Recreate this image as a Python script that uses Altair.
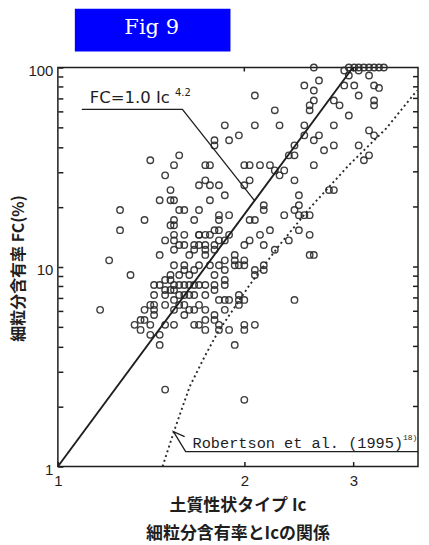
import altair as alt
import pandas as pd

# soil behaviour type index Ic and fines content FC (%)
IC = [
    2.59, 2.90, 2.95, 3.01, 3.06, 3.12, 3.18, 3.24, 3.30, 3.36, 3.06, 3.18, 2.95,
    2.64, 2.50, 3.01, 2.90, 3.24, 3.30, 2.59, 2.59, 2.55, 2.55, 2.79, 2.85, 3.06,
    3.24, 3.24, 2.08, 2.24, 1.86, 1.89, 1.96, 2.08, 2.28, 1.79, 2.50, 2.95, 2.79,
    2.79, 2.64, 2.59, 2.50, 2.69, 2.41, 2.41, 2.36, 3.06, 3.18, 3.24, 3.18, 3.12,
    2.59, 2.00, 2.04, 2.12, 2.20, 2.24, 2.32, 2.28, 2.41, 2.04, 2.00, 2.79, 2.74,
    1.82, 1.76, 1.73, 1.86, 2.45, 2.45, 2.41, 2.45, 2.55, 2.15, 2.15, 2.32, 1.82,
    1.89, 2.04,
    1.41, 1.57, 1.54, 1.49, 1.52, 1.46, 1.52, 1.54, 1.57, 1.60, 1.69, 1.26, 1.26,
    1.38, 1.21, 1.31, 1.46, 1.54, 1.54, 1.52, 1.66, 1.69, 1.73, 1.79, 1.82, 1.76,
    1.69, 1.73, 1.76, 1.79, 1.54, 1.57, 1.60, 1.66, 1.73, 1.63, 1.54, 1.52, 1.60,
    1.43, 1.49, 1.79, 1.86, 1.89, 1.93, 2.00, 1.86, 1.93, 1.86,
    2.50, 2.55, 2.45, 2.36, 2.59, 2.55, 2.24, 2.15, 2.08, 2.04, 2.12, 2.20, 2.00,
    2.08, 2.15, 1.79, 1.86, 1.96, 1.96, 2.41, 1.86, 1.86, 1.79, 2.00, 2.08, 1.93,
    2.00,
    1.17, 1.36, 1.38, 1.41, 1.43, 1.43, 1.46, 1.52, 1.54, 1.49, 1.54, 1.57, 1.63,
    1.60, 1.66, 1.73, 1.54, 1.66, 1.73, 1.82, 1.46, 1.41, 1.79, 1.73, 1.79, 1.82,
    1.93, 1.96, 1.96, 1.89, 1.66, 1.69, 1.73, 1.69, 1.82, 1.46, 1.49, 2.00,
    1.43, 1.49, 1.60, 1.63, 1.69, 1.73, 1.79, 1.82, 1.89, 2.00, 1.82, 1.86, 1.76,
    2.00, 2.08, 2.15, 1.49, 1.57, 1.60, 1.63, 1.69, 1.66, 1.60, 1.49, 1.43, 1.38,
    1.54, 1.73, 1.69, 1.60, 1.66, 1.73, 1.79, 1.54, 1.69, 1.76, 1.82, 1.54, 1.49,
    1.33, 1.36, 1.41, 1.57, 1.60, 1.63, 1.54, 1.66, 1.52, 1.57,
]
FC = [
    100, 96.6, 100, 100, 100, 100, 100, 100, 100, 100, 96.6, 91.2, 91.2,
    86.1, 81.3, 81.3, 81.3, 81.3, 79.0, 76.7, 68.4, 64.6, 61.0, 68.4, 64.6, 72.4,
    68.4, 64.6, 72.4, 61.0, 51.3, 43.2, 45.7, 51.3, 51.3, 43.2, 51.3, 57.5, 51.3,
    40.7, 45.7, 43.2, 45.7, 38.5, 40.7, 36.3, 36.3, 40.7, 48.4, 45.7, 36.3, 34.3,
    32.4, 32.4, 32.4, 32.4, 32.4, 30.5, 30.5, 28.8, 27.2, 27.2, 25.7, 24.3, 24.3,
    25.7, 25.7, 32.4, 22.9, 22.9, 20.4, 19.3, 18.2, 18.2, 20.4, 19.3, 18.2, 18.2,
    18.2, 17.2,
    34.3, 36.3, 32.4, 28.8, 24.3, 21.6, 21.6, 21.6, 19.3, 19.3, 19.3, 19.3, 15.3,
    17.2, 10.8, 9.12, 11.5, 17.2, 16.2, 16.2, 17.2, 14.5, 14.5, 15.3, 17.2, 21.6,
    25.7, 27.2, 32.4, 40.7, 13.6, 12.9, 14.5, 12.9, 12.2, 11.5, 10.2, 9.12, 9.66,
    8.13, 8.61, 12.2, 13.6, 14.5, 11.5, 12.9, 10.8, 10.2, 9.66,
    18.2, 14.5, 15.3, 13.6, 11.5, 11.5, 12.2, 12.9, 17.2, 13.6, 14.5, 15.3, 10.2,
    9.12, 9.66, 8.13, 8.13, 6.84, 6.46, 6.84, 6.84, 6.10, 5.75, 5.13, 5.13, 4.07,
    2.16,
    6.10, 5.43, 5.43, 6.46, 6.10, 7.24, 8.13, 8.61, 8.13, 7.24, 6.84, 7.24, 7.24,
    6.46, 6.10, 6.10, 5.13, 5.13, 5.43, 5.13, 4.57, 5.13, 9.12, 8.13, 7.67, 10.2,
    10.8, 10.2, 7.24, 6.84, 9.66, 10.2, 11.5, 12.9, 15.3, 4.07, 2.43, 4.84,
    5.75, 5.13, 5.75, 6.10, 5.13, 4.84, 5.43, 4.84, 4.84, 6.84, 6.84, 8.61, 10.2,
    10.8, 9.66, 10.2, 7.67, 9.12, 10.2, 9.12, 8.13, 7.24, 7.24, 6.46, 6.46, 6.10,
    6.10, 7.24, 6.46, 12.9, 12.2, 12.9, 12.9, 12.2, 14.5, 14.5, 13.6, 14.5, 13.6,
    5.13, 4.84, 4.57, 8.13, 8.13, 8.13, 7.67, 8.13, 7.67, 6.46,
]

# FC = 1.0 Ic^4.2, straight on log-log axes
LINE_IC = [1.0, 2.995]
LINE_FC = [1.0, 100.0]

# Robertson et al. (1995), dotted curve
ROB_IC = [1.476, 1.543, 1.632, 1.725, 1.81, 2.04, 2.28, 2.55, 2.95, 3.39, 3.80]
ROB_FC = [1.0, 1.53, 2.51, 3.55, 4.68, 8.13, 12.9, 19.7, 32.4, 49.5, 76.7]

# leader lines of the two labels
FC_LEAD_IC = [1.093, 1.589, 2.076]
FC_LEAD_FC = [61.7, 61.7, 21.6]
ROB_LEAD_IC = [1.602, 1.537, 1.608, 3.815]
ROB_LEAD_FC = [1.413, 1.496, 1.189, 1.189]

X_DOMAIN = [1, 3.815]
Y_DOMAIN = [1, 100]
X_TICKS = [1, 2, 3]
Y_TICKS = [1, 2, 3, 4, 5, 6, 7, 8, 9, 10, 20, 30, 40, 50, 60, 70, 80, 90, 100]

W, H = 361, 400
TICK = 5  # axes are pulled inside the frame by this much so ticks point inward
INK = "#1e1e1e"

xs = alt.Scale(type="log", domain=X_DOMAIN, nice=False)
ys = alt.Scale(type="log", domain=Y_DOMAIN, nice=False)

pts = pd.DataFrame({"ic": IC, "fc": FC})

scatter = (
    alt.Chart(pts)
    .mark_point(shape="circle", filled=False, size=42, strokeWidth=1.4, color="#2a2a2a", opacity=0.9)
    .encode(
        x=alt.X(
            "ic:Q",
            scale=xs,
            axis=alt.Axis(
                values=X_TICKS,
                format="~g",
                offset=-TICK,
                tickSize=TICK,
                tickColor=INK,
                tickWidth=1.5,
                domain=False,
                grid=False,
                labelFont="Liberation Sans",
                labelFontSize=15,
                labelColor=INK,
                labelPadding=7,
                labelFlush=False,
                labelOverlap=False,
                title=["土質性状タイプ Ic", "細粒分含有率とIcの関係"],
                titleFont="Noto Sans CJK JP",
                titleFontSize=17,
                titleFontWeight="bold",
                titleColor=INK,
                titleLineHeight=28,
                titleX=180,
                titleY=31 + TICK,
                titleAlign="center",
                titleBaseline="top",
            ),
        ),
        y=alt.Y(
            "fc:Q",
            scale=ys,
            axis=alt.Axis(
                values=Y_TICKS,
                labelExpr="indexof([1, 10, 100], datum.value) >= 0 ? datum.label : ''",
                format="~g",
                offset=-TICK,
                tickSize=TICK,
                tickColor=INK,
                tickWidth=1.5,
                domain=False,
                grid=False,
                labelFont="Liberation Sans",
                labelFontSize=15,
                labelColor=INK,
                labelPadding=5,
                labelOffset=3,
                labelFlush=False,
                labelOverlap=False,
                title="細粒分含有率 FC(%)",
                titleFont="Noto Sans CJK JP",
                titleFontSize=16,
                titleFontWeight="bold",
                titleColor=INK,
                titleX=-39 - TICK,
                titleY=201,
                titleAlign="center",
                titleBaseline="middle",
            ),
        ),
    )
)

# the other layers share the scatter's scales and axes
px = alt.X("ic:Q", scale=xs)
py = alt.Y("fc:Q", scale=ys)

# inward ticks on the right and top edges of the frame
right_ticks = (
    alt.Chart(pd.DataFrame({"fc": Y_TICKS[1:-1]}))
    .mark_rule(color=INK, strokeWidth=1.5)
    .encode(y=py, x=alt.value(W - TICK), x2=alt.value(W))
)
top_ticks = (
    alt.Chart(pd.DataFrame({"ic": X_TICKS[1:]}))
    .mark_rule(color=INK, strokeWidth=1.5)
    .encode(x=px, y=alt.value(0), y2=alt.value(4))
)

fc_line = (
    alt.Chart(pd.DataFrame({"ic": LINE_IC, "fc": LINE_FC}))
    .mark_line(color=INK, strokeWidth=1.9)
    .encode(x=px, y=py)
)

rob_line = (
    alt.Chart(pd.DataFrame({"ic": ROB_IC, "fc": ROB_FC, "o": range(len(ROB_IC))}))
    .mark_line(color="#2a2a2a", strokeWidth=1.9, strokeDash=[2, 3])
    .encode(x=px, y=py, order="o:Q")
)


def leader(ic, fc):
    df = pd.DataFrame({"ic": ic, "fc": fc, "o": range(len(ic))})
    return alt.Chart(df).mark_line(color=INK, strokeWidth=1.3).encode(x=px, y=py, order="o:Q")


def label(ic, fc, text, font, size):
    df = pd.DataFrame({"ic": [ic], "fc": [fc], "t": [text]})
    return (
        alt.Chart(df)
        .mark_text(align="left", baseline="alphabetic", font=font, fontSize=size, color=INK)
        .encode(x=px, y=py, text="t:N")
    )


one = pd.DataFrame({"a": [0]})
fig_box = alt.Chart(one).mark_rect(color="#0000ff").encode(
    x=alt.value(17), x2=alt.value(173), y=alt.value(-59), y2=alt.value(-16)
)
fig_text = alt.Chart(one).mark_text(
    text="Fig 9", font="DejaVu Serif", fontSize=21, color="white", align="center", baseline="middle"
).encode(x=alt.value(94), y=alt.value(-40))

chart = (
    alt.layer(
        scatter,
        right_ticks,
        top_ticks,
        fc_line,
        rob_line,
        leader(FC_LEAD_IC, FC_LEAD_FC),
        leader(ROB_LEAD_IC, ROB_LEAD_FC),
        label(1.126, 66.1, "FC=1.0 Ic", "DejaVu Sans", 16.5),
        label(1.545, 71.6, "4.2", "DejaVu Sans", 10),
        label(1.650, 1.245, "Robertson et al. (1995)", "Liberation Mono", 15.3),
        label(3.607, 1.365, "18)", "Liberation Mono", 8),
        fig_box,
        fig_text,
    )
    .properties(width=W, height=H, padding={"left": 3, "top": 0, "right": 0, "bottom": 0}, background="white")
    .configure_view(stroke=INK, strokeWidth=1.5)
)

chart.save("out.html", embed_options={"renderer": "svg", "actions": False})
